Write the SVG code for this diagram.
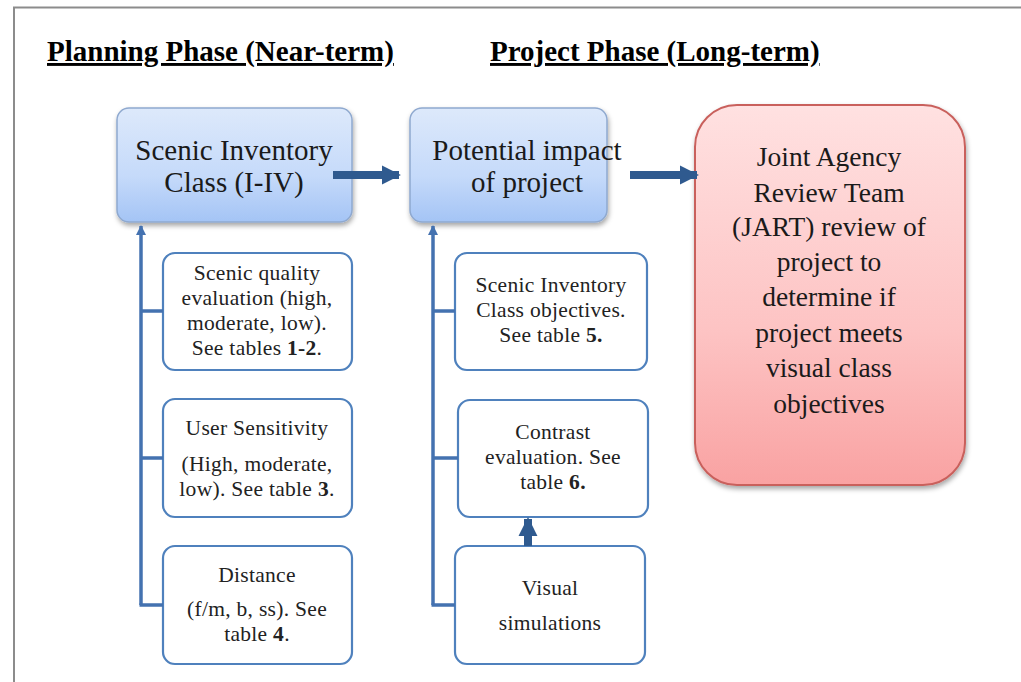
<svg xmlns="http://www.w3.org/2000/svg" width="1021" height="682" viewBox="0 0 1021 682">
<style>
.hd{font-family:"Liberation Serif",serif;font-size:29px;font-weight:bold;fill:#000;text-decoration:underline}
.big{font-family:"Liberation Serif",serif;font-size:29px;fill:#1a1a1a;text-anchor:middle}
.red{font-family:"Liberation Serif",serif;font-size:27.5px;fill:#1a1a1a;text-anchor:middle}
.sm{font-family:"Liberation Serif",serif;font-size:21.5px;letter-spacing:0.3px;fill:#222;text-anchor:middle}
.sm tspan.b{font-weight:bold}
.blue{fill:url(#gb);stroke:#8fa9cf;stroke-width:1.5;filter:url(#sh)}
.pink{fill:url(#gr);stroke:#c9605c;stroke-width:2;filter:url(#sh)}
.wbox{fill:#fff;stroke:#4f81bd;stroke-width:2.2}
.ln{stroke:#4472b0;stroke-width:3.5;fill:none}
.thick{stroke:#2f5a8f;stroke-width:8;fill:none}
</style>
<defs>
<linearGradient id="gb" x1="0" y1="0" x2="0" y2="1">
<stop offset="0" stop-color="#dde9fb"/>
<stop offset="0.6" stop-color="#c5dafa"/>
<stop offset="1" stop-color="#a4c4f5"/>
</linearGradient>
<linearGradient id="gr" x1="0" y1="0" x2="0" y2="1">
<stop offset="0" stop-color="#ffe1e1"/>
<stop offset="0.6" stop-color="#fdc3c3"/>
<stop offset="1" stop-color="#f9a2a2"/>
</linearGradient>
<filter id="sh" x="-10%" y="-10%" width="125%" height="125%">
<feDropShadow dx="1" dy="3" stdDeviation="2.5" flood-color="#000" flood-opacity="0.35"/>
</filter>
<marker id="ah" viewBox="0 0 10 10" refX="9" refY="5" markerWidth="2.4" markerHeight="2.4" orient="auto" markerUnits="strokeWidth">
<path d="M0,0 L10,5 L0,10 z" fill="#2f5a8f"/>
</marker>
<marker id="ahs" viewBox="0 0 10 10" refX="9" refY="5" markerWidth="3" markerHeight="3" orient="auto" markerUnits="strokeWidth">
<path d="M0,0 L10,5 L0,10 z" fill="#4472b0"/>
</marker>
</defs>
<rect width="1021" height="682" fill="#fff"/>
<path d="M14,682 V7.5 H1021" fill="none" stroke="#8c8c8c" stroke-width="2"/>

<text class="hd" x="47" y="61">Planning Phase (Near-term)</text>
<text class="hd" x="490" y="61">Project Phase (Long-term)</text>

<g id="n-scenic-class">
<rect class="blue" x="117" y="108" width="235" height="114" rx="12"/>
<text class="big" x="234" y="160">Scenic Inventory</text>
<text class="big" x="234" y="192">Class (I-IV)</text>
</g>

<g id="n-potential">
<rect class="blue" x="410" y="108" width="197" height="114" rx="12"/>
<text class="big" x="527" y="160">Potential impact</text>
<text class="big" x="527" y="192">of project</text>
</g>

<g id="n-jart">
<rect class="pink" x="695" y="105" width="270" height="380" rx="42"/>
<text class="red" x="829" y="166">Joint Agency</text>
<text class="red" x="829" y="202">Review Team</text>
<text class="red" x="829" y="236">(JART) review of</text>
<text class="red" x="829" y="271">project to</text>
<text class="red" x="829" y="306">determine if</text>
<text class="red" x="829" y="342">project meets</text>
<text class="red" x="829" y="377">visual class</text>
<text class="red" x="829" y="413">objectives</text>
</g>

<g id="n-quality">
<rect class="wbox" x="163" y="253" width="189" height="117" rx="12"/>
<text class="sm" x="257" y="280">Scenic quality</text>
<text class="sm" x="257" y="305">evaluation (high,</text>
<text class="sm" x="257" y="330">moderate, low).</text>
<text class="sm" x="257" y="355">See tables <tspan class="b">1-2</tspan>.</text>
</g>

<g id="n-sensitivity">
<rect class="wbox" x="163" y="399" width="189" height="118" rx="12"/>
<text class="sm" x="257" y="435">User Sensitivity</text>
<text class="sm" x="257" y="471">(High, moderate,</text>
<text class="sm" x="257" y="496">low). See table <tspan class="b">3</tspan>.</text>
</g>

<g id="n-distance">
<rect class="wbox" x="163" y="546" width="189" height="118" rx="12"/>
<text class="sm" x="257" y="582">Distance</text>
<text class="sm" x="257" y="616">(f/m, b, ss). See</text>
<text class="sm" x="257" y="641">table <tspan class="b">4</tspan>.</text>
</g>

<g id="n-objectives">
<rect class="wbox" x="455" y="253" width="192" height="117" rx="12"/>
<text class="sm" x="551" y="292">Scenic Inventory</text>
<text class="sm" x="551" y="317">Class objectives.</text>
<text class="sm" x="551" y="342">See table <tspan class="b">5.</tspan></text>
</g>

<g id="n-contrast">
<rect class="wbox" x="458" y="400" width="190" height="117" rx="12"/>
<text class="sm" x="553" y="439">Contrast</text>
<text class="sm" x="553" y="464">evaluation. See</text>
<text class="sm" x="553" y="489">table <tspan class="b">6.</tspan></text>
</g>

<g id="n-simulations">
<rect class="wbox" x="455" y="546" width="190" height="118" rx="12"/>
<text class="sm" x="550" y="595">Visual</text>
<text class="sm" x="550" y="630">simulations</text>
</g>

<g id="connectors">
<path class="thick" d="M333,175 H399" marker-end="url(#ah)"/>
<path class="thick" d="M630,175 H697" marker-end="url(#ah)"/>
<path class="ln" d="M141,605 V226" marker-end="url(#ahs)"/>
<path class="ln" d="M141,311 H163 M141,458 H163 M139.5,605 H163"/>
<path class="ln" d="M433,605 V226" marker-end="url(#ahs)"/>
<path class="ln" d="M433,311 H455 M433,458 H458 M431.5,605 H455"/>
<path class="thick" d="M528,546 V519" marker-end="url(#ah)"/>
</g>
</svg>
